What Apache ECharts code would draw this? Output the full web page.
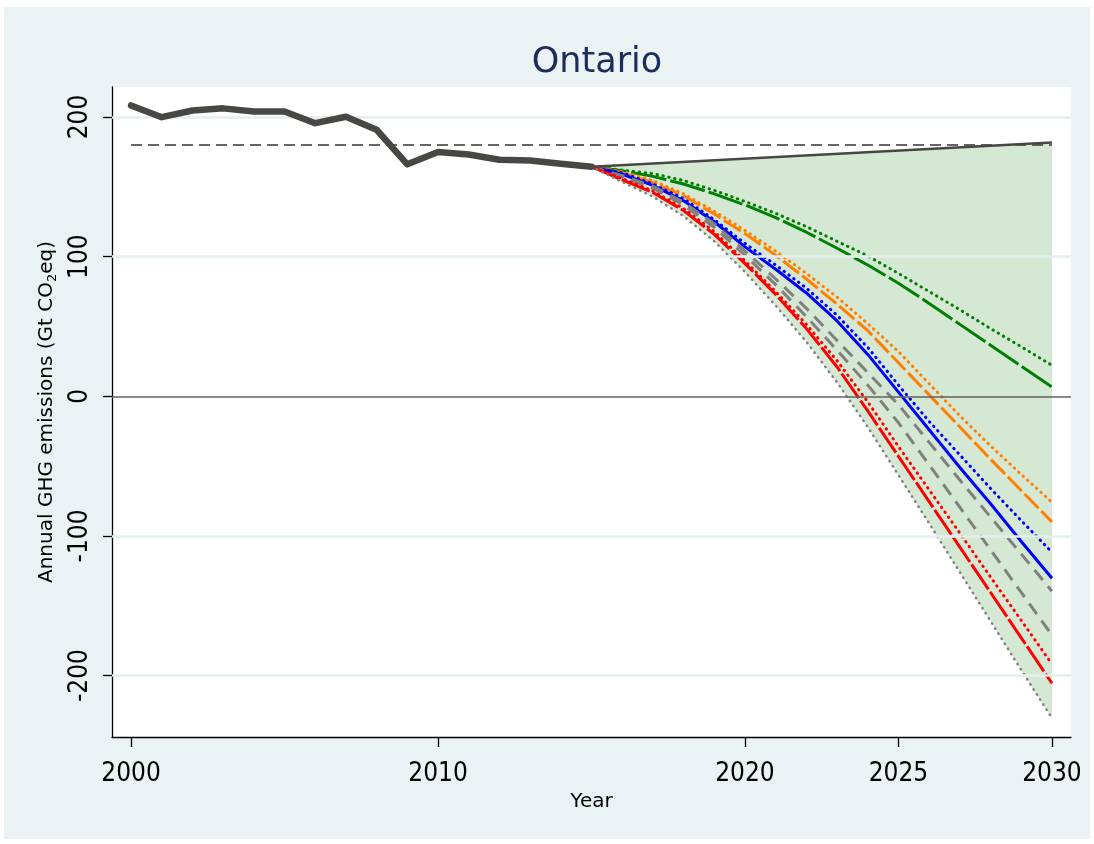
<!DOCTYPE html>
<html>
<head>
<meta charset="utf-8">
<script src="https://cdn.jsdelivr.net/npm/echarts@6.0.0/dist/echarts.min.js"></script>
<style>
  html, body { margin: 0; padding: 0; background: #ffffff; }
  #chart { width: 1094px; height: 844px; }
</style>
</head>
<body>
<div id="chart"></div>
<script>
// Historical emissions, Ontario
const histYears = [2000, 2001, 2002, 2003, 2004, 2005, 2006, 2007, 2008, 2009, 2010, 2011, 2012, 2013, 2014, 2015];
const histEmissions = [208.3, 199.9, 204.7, 206.2, 204.0, 204.0, 195.6, 200.2, 190.9, 166.1, 174.9, 173.2, 169.4, 168.9, 166.6, 164.4];

// Projection years shared by all pathways
const projYears = [2015, 2016, 2017, 2018, 2019, 2020, 2021, 2022, 2023, 2024, 2025, 2026, 2027, 2028, 2029, 2030];

const greenDotted  = [164.4, 162.0, 159.5, 154.5, 147.5, 139.5, 131.0, 121.5, 111.0, 100.5, 88.0, 75.0, 62.0, 48.5, 35.5, 22.2];
const greenDashed  = [164.4, 161.5, 157.5, 152.0, 145.0, 137.0, 128.0, 117.5, 106.0, 94.0, 81.0, 66.5, 51.5, 36.5, 21.5, 6.7];
const orangeDotted = [164.4, 161.0, 154.5, 145.0, 132.5, 118.8, 104.0, 88.0, 71.0, 52.0, 32.0, 9.0, -14.0, -35.5, -56.0, -75.9];
const orangeDashed = [164.4, 160.0, 153.0, 143.5, 130.5, 116.5, 101.0, 84.0, 66.0, 47.0, 24.0, 1.0, -22.0, -45.0, -67.5, -90.0];
const blueDotted   = [164.4, 160.0, 152.0, 141.5, 126.5, 109.5, 94.0, 77.5, 58.0, 35.0, 8.0, -18.0, -42.0, -66.0, -89.0, -111.7];
const blueSolid    = [164.4, 159.0, 151.0, 140.0, 125.0, 107.0, 91.0, 74.0, 54.0, 30.0, 3.0, -24.0, -51.0, -77.0, -104.0, -130.3];
const greyDashedA  = [164.4, 158.0, 150.5, 139.0, 123.5, 104.0, 84.0, 63.0, 40.0, 17.0, -6.0, -33.0, -60.0, -86.5, -113.0, -139.6];
const greyDashedB  = [164.4, 157.0, 149.0, 137.0, 121.0, 101.0, 80.0, 57.0, 33.0, 8.0, -19.0, -49.0, -79.5, -110.0, -140.5, -171.0];
const redDotted    = [164.4, 156.0, 147.0, 134.5, 118.0, 97.0, 75.0, 51.5, 25.5, -4.0, -36.0, -67.0, -98.0, -129.5, -160.5, -191.8];
const redDashed    = [164.4, 155.0, 146.0, 133.0, 116.0, 95.0, 73.0, 48.5, 21.0, -10.5, -43.0, -75.5, -108.0, -140.5, -173.0, -205.5];
const greyDotted   = [164.4, 153.5, 143.0, 129.0, 111.0, 89.0, 65.0, 39.0, 10.0, -22.0, -56.5, -91.0, -126.0, -161.0, -196.0, -230.5];

// Business-as-usual upper bound and 180 reference level
const upperYears = [2015, 2030];
const upperValues = [164.4, 181.8];
const refYears = [2000, 2030];
const refValues = [180, 180];

// Axis ticks
const xTicks = [2000, 2010, 2020, 2025, 2030];
const yTicks = [-200, -100, 0, 100, 200];
const yGridLevels = [-200, -100, 100, 200];

const FONT = "'DejaVu Sans', sans-serif";
const TICK_FONT = "'DejaVu Sans Condensed', 'DejaVu Sans', sans-serif";
const pairs = (xs, ys) => xs.map((x, i) => [x, ys[i]]);

const DOT = [0.5, 5.5];

function pathway(name, values, color, dash, width) {
  return {
    name: name,
    type: 'line',
    data: pairs(projYears, values),
    symbol: 'none',
    smooth: false,
    z: 4,
    lineStyle: { color: color, width: width || 3, type: dash, cap: dash === DOT ? 'round' : 'butt', join: 'round' }
  };
}

const chart = echarts.init(document.getElementById('chart'), null, { renderer: 'canvas' });

chart.setOption({
  backgroundColor: 'transparent',
  animation: false,
  graphic: [{
    type: 'rect', z: -100, silent: true,
    shape: { x: 4, y: 7, width: 1086, height: 832 },
    style: { fill: '#eaf2f3' }
  }],
  title: {
    text: 'Ontario',
    left: 592,
    textAlign: 'center',
    top: 40,
    textStyle: { fontFamily: FONT, fontSize: 35, fontWeight: 'normal', color: '#1c2d5c' }
  },
  grid: {
    left: 112, right: 23, top: 87, bottom: 107,
    show: true, backgroundColor: '#ffffff', borderWidth: 0
  },
  xAxis: {
    type: 'value',
    min: 1999.38, max: 2030.62,
    name: 'Year',
    nameLocation: 'middle',
    nameGap: 50,
    nameTextStyle: { fontFamily: FONT, fontSize: 20, color: '#000' },
    axisLine: { show: true, onZero: false, lineStyle: { color: '#000', width: 1.3 } },
    axisTick: { show: true, length: 10, customValues: xTicks, lineStyle: { color: '#000', width: 1.3 } },
    axisLabel: { customValues: xTicks, margin: 24, fontFamily: TICK_FONT, fontSize: 26, color: '#000', formatter: v => String(v) },
    splitLine: { show: false }
  },
  yAxis: {
    type: 'value',
    min: -244, max: 221.5,
    name: '{t|Annual GHG emissions (Gt CO}{s|2}{t|eq)}',
    nameLocation: 'middle',
    nameRotate: 90,
    nameGap: 53,
    nameTextStyle: {
      rich: {
        t: { fontFamily: FONT, fontSize: 20, color: '#000', lineHeight: 25 },
        s: { fontFamily: FONT, fontSize: 13, color: '#000', lineHeight: 25, verticalAlign: 'bottom' }
      }
    },
    axisLine: { show: true, lineStyle: { color: '#000', width: 1.3 } },
    axisTick: { show: true, length: 9, customValues: yTicks, lineStyle: { color: '#000', width: 1.3 } },
    axisLabel: { customValues: yTicks, rotate: 90, margin: 19, fontFamily: TICK_FONT, fontSize: 26, color: '#000', formatter: v => String(v) },
    splitLine: { show: false }
  },
  series: [
    {
      // shaded range between the upper bound and the lowest pathway
      name: 'range',
      type: 'custom',
      z: 1,
      silent: true,
      data: [[upperYears[0], upperValues[0]]],
      encode: { x: 0, y: 1 },
      renderItem: function (params, api) {
        const pts = [];
        for (let i = 0; i < upperYears.length; i++) pts.push(api.coord([upperYears[i], upperValues[i]]));
        for (let i = projYears.length - 1; i >= 0; i--) pts.push(api.coord([projYears[i], greyDotted[i]]));
        return { type: 'polygon', shape: { points: pts }, style: { fill: '#d5e8d4' } };
      }
    },
    {
      // light horizontal grid lines and the zero line
      name: 'gridlines',
      type: 'line',
      data: [],
      z: 2,
      silent: true,
      markLine: {
        silent: true,
        symbol: 'none',
        label: { show: false },
        data: yGridLevels.map(v => ({ yAxis: v, lineStyle: { color: '#e4eef0', width: 2.5, type: 'solid' } }))
          .concat([{ yAxis: 0, lineStyle: { color: '#5f625f', width: 1.6, type: 'solid' } }])
      }
    },
    {
      name: 'reference',
      type: 'line',
      data: pairs(refYears, refValues),
      symbol: 'none',
      z: 3,
      lineStyle: { color: '#333333', width: 1.4, type: [11, 6] }
    },
    pathway('greenDotted', greenDotted, '#008000', DOT),
    pathway('greenDashed', greenDashed, '#008000', [36, 4]),
    pathway('orangeDotted', orangeDotted, '#ff8000', DOT),
    pathway('orangeDashed', orangeDashed, '#ff8000', [20, 4]),
    pathway('blueDotted', blueDotted, '#0000ff', DOT),
    pathway('blueSolid', blueSolid, '#0000ff', 'solid'),
    pathway('greyDashedA', greyDashedA, '#808080', [13, 8]),
    pathway('greyDashedB', greyDashedB, '#808080', [13, 8]),
    pathway('redDotted', redDotted, '#ff0000', DOT),
    pathway('redDashed', redDashed, '#ff0000', [30, 3]),
    pathway('greyDotted', greyDotted, '#808080', DOT, 2.5),
    {
      name: 'upper',
      type: 'line',
      data: pairs(upperYears, upperValues),
      symbol: 'none',
      z: 5,
      lineStyle: { color: '#474743', width: 2.6 }
    },
    {
      name: 'historical',
      type: 'line',
      data: pairs(histYears, histEmissions),
      symbol: 'none',
      z: 6,
      lineStyle: { color: '#474743', width: 6.5, join: 'round', cap: 'round' }
    }
  ]
});
</script>
</body>
</html>
